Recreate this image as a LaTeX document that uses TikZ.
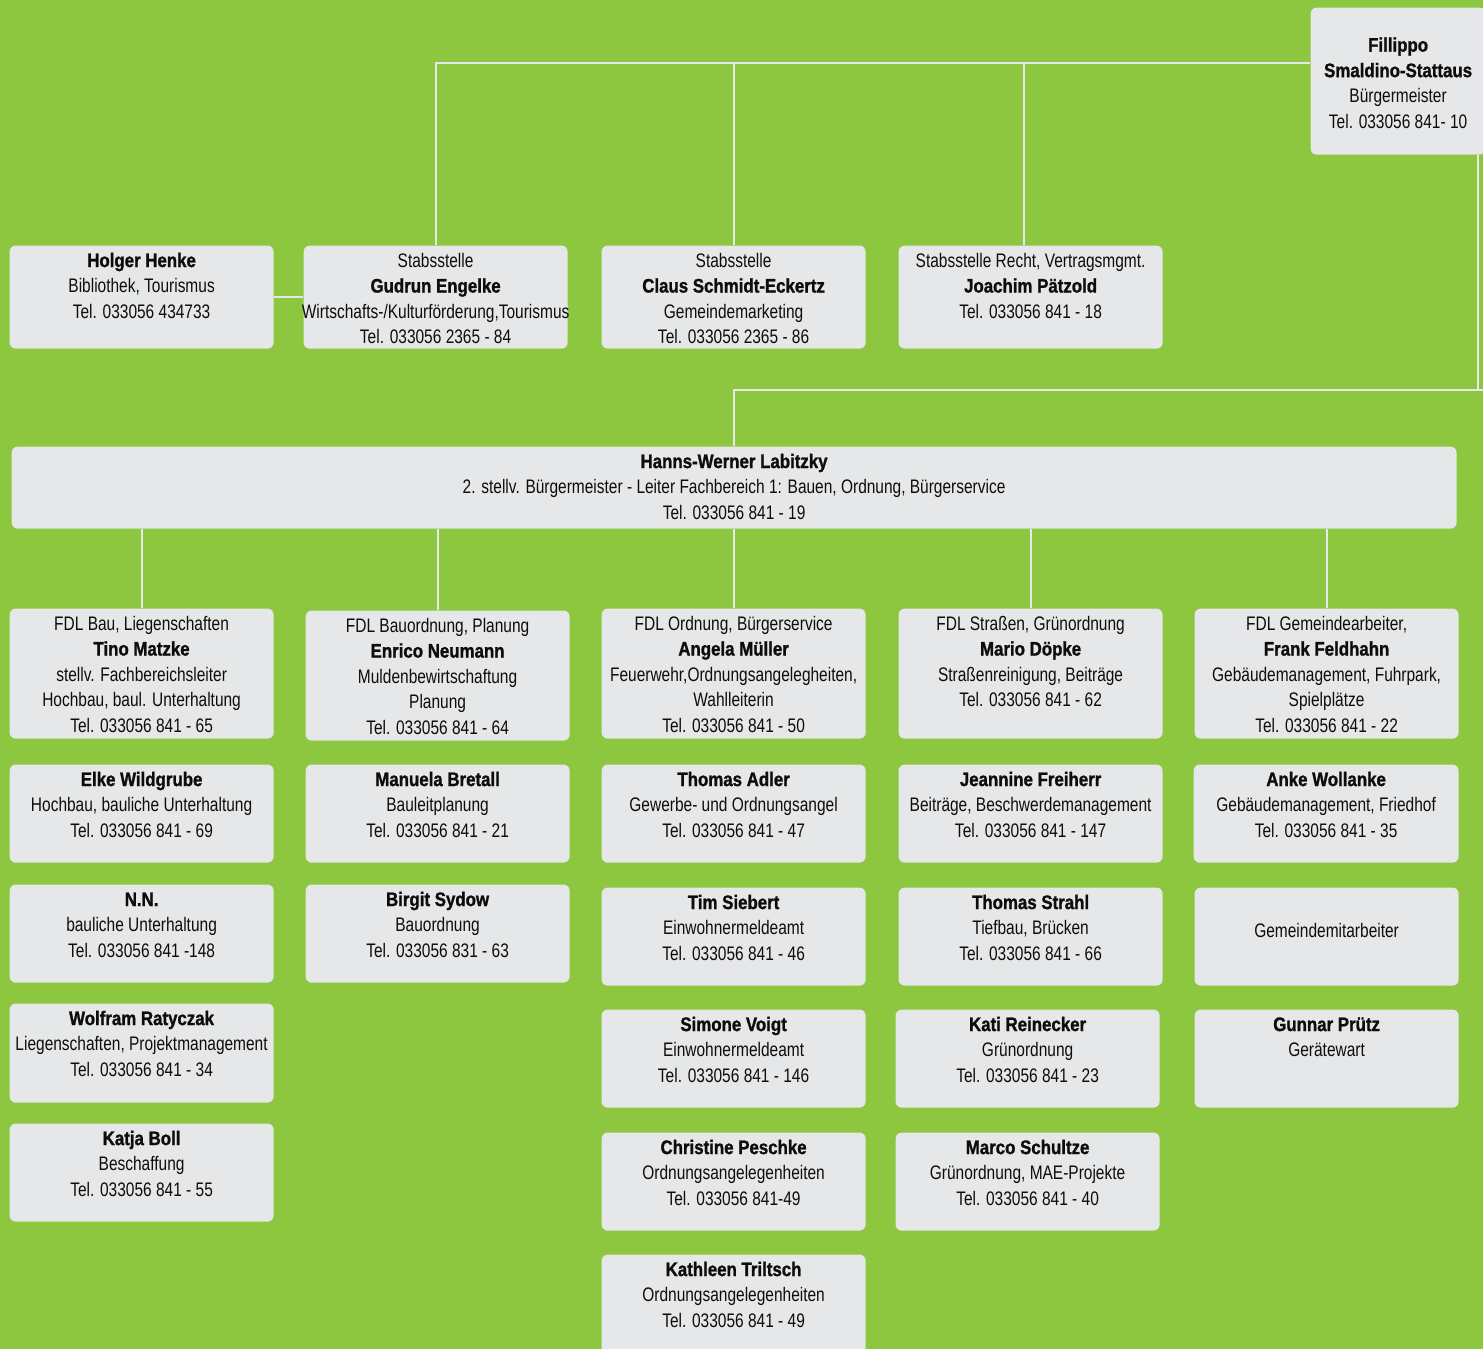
\documentclass[tikz,border=0pt]{standalone}
\usepackage{fontspec}
\setmainfont{Liberation Sans}[UprightFeatures={FakeStretch=0.79}, BoldFeatures={FakeStretch=0.86, FakeBold=1.2}]
\usepackage{tikz}
\usetikzlibrary{positioning,calc}
\tikzset{
  every picture/.append style={line width=0.6pt},
}
\newcommand{\cardfont}{\fontsize{9.8}{12.75}\selectfont}
% box body: [top gap]{width px}{height px}{lines}
\newcommand{\cardtext}[4][1.8pt]{%
  \parbox[c][\dimexpr#3pt/2\relax][t]{\dimexpr#2pt/2\relax}{\vspace*{#1}%
    \makebox[\dimexpr#2pt/2\relax]{\begin{tabular}[t]{@{}c@{}}#4\end{tabular}}}}

\begin{document}
\begin{tikzpicture}[
  x=0.5pt, y=-0.5pt,
  card/.style={fill=cardgrey, rounded corners=3pt, inner sep=0pt, anchor=north west, font=\cardfont, text=black!95},
  wire/.style={draw=cardgrey, line width=1pt}
]
\definecolor{bggreen}{RGB}{141,198,63}
\definecolor{cardgrey}{RGB}{230,231,232}

\useasboundingbox (0,0) rectangle (1483,1349);
\clip (0,0) rectangle (1483,1349);
\fill[bggreen] (0,0) rectangle (1483,1349);

% Leitung
\node[card] (mayor) at (1310,7) {\cardtext[13.1pt]{175}{147}{\textbf{Fillippo}\\\textbf{Smaldino-Stattaus}\\Bürgermeister\\Tel. 033056 841- 10}};

% Stabsstellen
\node[card] (henke) at (9,245) {\cardtext{264}{103}{\textbf{Holger Henke}\\Bibliothek, Tourismus\\Tel. 033056 434733}};
\node[card] (engelke) at (303,245) {\cardtext{264}{103}{Stabsstelle\\\textbf{Gudrun Engelke}\\Wirtschafts-/Kulturförderung,Tourismus\\Tel. 033056 2365 - 84}};
\node[card] (eckertz) at (601,245) {\cardtext{264}{103}{Stabsstelle\\\textbf{Claus Schmidt-Eckertz}\\Gemeindemarketing\\Tel. 033056 2365 - 86}};
\node[card] (paetzold) at (898,245) {\cardtext{264}{103}{Stabsstelle Recht, Vertragsmgmt.\\\textbf{Joachim Pätzold}\\Tel. 033056 841 - 18}};

% Fachbereich 1
\node[card] (labitzky) at (11,446) {\cardtext{1445}{82}{\textbf{Hanns-Werner Labitzky}\\2. stellv. Bürgermeister - Leiter Fachbereich 1: Bauen, Ordnung, Bürgerservice\\Tel. 033056 841 - 19}};

% Bau, Liegenschaften
\node[card] (matzke) at (9,608) {\cardtext{264}{130}{FDL Bau, Liegenschaften\\\textbf{Tino Matzke}\\stellv. Fachbereichsleiter\\Hochbau, baul. Unterhaltung\\Tel. 033056 841 - 65}};
\node[card] (wildgrube) at (9,764) {\cardtext{264}{98}{\textbf{Elke Wildgrube}\\Hochbau, bauliche Unterhaltung\\Tel. 033056 841 - 69}};
\node[card] (nn) at (9,884) {\cardtext{264}{98}{\textbf{N.N.}\\bauliche Unterhaltung\\Tel. 033056 841 -148}};
\node[card] (ratyczak) at (9,1003) {\cardtext{264}{99}{\textbf{Wolfram Ratyczak}\\Liegenschaften, Projektmanagement\\Tel. 033056 841 - 34}};
\node[card] (boll) at (9,1123) {\cardtext{264}{98}{\textbf{Katja Boll}\\Beschaffung\\Tel. 033056 841 - 55}};

% Bauordnung, Planung
\node[card] (neumann) at (305,610) {\cardtext{264}{130}{FDL Bauordnung, Planung\\\textbf{Enrico Neumann}\\Muldenbewirtschaftung\\Planung\\Tel. 033056 841 - 64}};
\node[card] (bretall) at (305,764) {\cardtext{264}{98}{\textbf{Manuela Bretall}\\Bauleitplanung\\Tel. 033056 841 - 21}};
\node[card] (sydow) at (305,884) {\cardtext{264}{98}{\textbf{Birgit Sydow}\\Bauordnung\\Tel. 033056 831 - 63}};

% Ordnung, Buergerservice
\node[card] (mueller) at (601,608) {\cardtext{264}{130}{FDL Ordnung, Bürgerservice\\\textbf{Angela Müller}\\Feuerwehr,Ordnungsangelegheiten,\\Wahlleiterin\\Tel. 033056 841 - 50}};
\node[card] (adler) at (601,764) {\cardtext{264}{98}{\textbf{Thomas Adler}\\Gewerbe- und Ordnungsangel\\Tel. 033056 841 - 47}};
\node[card] (siebert) at (601,887) {\cardtext{264}{98}{\textbf{Tim Siebert}\\Einwohnermeldeamt\\Tel. 033056 841 - 46}};
\node[card] (voigt) at (601,1009) {\cardtext{264}{98}{\textbf{Simone Voigt}\\Einwohnermeldeamt\\Tel. 033056 841 - 146}};
\node[card] (peschke) at (601,1132) {\cardtext{264}{98}{\textbf{Christine Peschke}\\Ordnungsangelegenheiten\\Tel. 033056 841-49}};
\node[card] (triltsch) at (601,1254) {\cardtext{264}{110}{\textbf{Kathleen Triltsch}\\Ordnungsangelegenheiten\\Tel. 033056 841 - 49}};

% Strassen, Gruenordnung
\node[card] (doepke) at (898,608) {\cardtext{264}{130}{FDL Straßen, Grünordnung\\\textbf{Mario Döpke}\\Straßenreinigung, Beiträge\\Tel. 033056 841 - 62}};
\node[card] (freiherr) at (898,764) {\cardtext{264}{98}{\textbf{Jeannine Freiherr}\\Beiträge, Beschwerdemanagement\\Tel. 033056 841 - 147}};
\node[card] (strahl) at (898,887) {\cardtext{264}{98}{\textbf{Thomas Strahl}\\Tiefbau, Brücken\\Tel. 033056 841 - 66}};
\node[card] (reinecker) at (895,1009) {\cardtext{264}{98}{\textbf{Kati Reinecker}\\Grünordnung\\Tel. 033056 841 - 23}};
\node[card] (schultze) at (895,1132) {\cardtext{264}{98}{\textbf{Marco Schultze}\\Grünordnung, MAE-Projekte\\Tel. 033056 841 - 40}};

% Gemeindearbeiter
\node[card] (feldhahn) at (1194,608) {\cardtext{264}{130}{FDL Gemeindearbeiter,\\\textbf{Frank Feldhahn}\\Gebäudemanagement, Fuhrpark,\\Spielplätze\\Tel. 033056 841 - 22}};
\node[card] (wollanke) at (1193,764) {\cardtext{265}{98}{\textbf{Anke Wollanke}\\Gebäudemanagement, Friedhof\\Tel. 033056 841 - 35}};
\node[card] (gemeinde) at (1194,887) {\cardtext[16.1pt]{264}{98}{Gemeindemitarbeiter}};
\node[card] (pruetz) at (1194,1009) {\cardtext{264}{98}{\textbf{Gunnar Prütz}\\Gerätewart}};

% Linien
\draw[wire] (mayor.west |- 0,63) -- (engelke.north |- 0,63) -- (engelke.north);
\draw[wire] (eckertz.north) -- (eckertz.north |- 0,63);
\draw[wire] ([xshift=-3.5pt]paetzold.north) -- ([xshift=-3.5pt]paetzold.north |- 0,63);
\draw[wire] (henke.east) -- (engelke.west);
\draw[wire] (mayor.south -| 1478,0) -- (1478,390) -- (labitzky.north |- 0,390) -- (labitzky.north);
\draw[wire] (1478,390) -- (1483,390);
\foreach \fdl in {matzke,neumann,mueller,doepke,feldhahn}
  \draw[wire] (\fdl.north) -- (\fdl.north |- labitzky.south);
\end{tikzpicture}
\end{document}
